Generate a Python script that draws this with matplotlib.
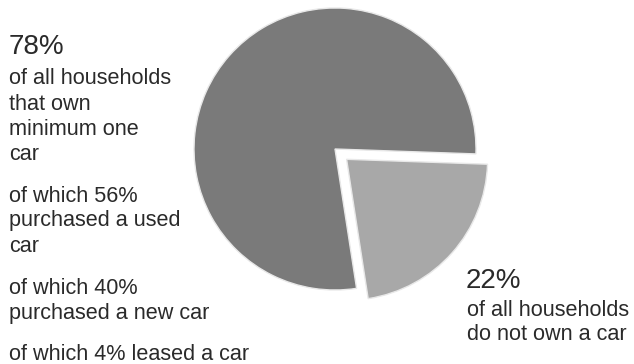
import matplotlib.pyplot as plt

plt.rcParams['font.family'] = ['Liberation Sans', 'DejaVu Sans']

# data
shares = [22, 78]
colors = ['#a8a8a8', '#7a7a7a']
explode = [0.11, 0]

left_big = '78%'
left_blocks = [
    ['of all households', 'that own', 'minimum one', 'car'],
    ['of which 56%', 'purchased a used', 'car'],
    ['of which 40%', 'purchased a new car'],
    ['of which 4% leased a car'],
]
right_big = '22%'
right_lines = ['of all households', 'do not own a car']

W, H = 634, 364
fig = plt.figure(figsize=(W / 100, H / 100), dpi=100)
ax = fig.add_axes([0, 0, 1, 1])

# pie centre at (335, 149) px from top-left, radius 141 px
cx, cy, r = 335, 149, 141
ax.pie(shares, colors=colors, explode=explode, startangle=-2,
       counterclock=False, radius=1,
       wedgeprops=dict(edgecolor='#e8e8e8', linewidth=1))
ax.set_xlim(-cx / r, (W - cx) / r)
ax.set_ylim(-(H - cy) / r, cy / r)
ax.axis('off')


def px(x, y):
    # pixel (from top-left) -> figure fraction
    return x / W, 1 - y / H


txt = '#2a2a2a'
fig.text(*px(9, 47), left_big, fontsize=20, color=txt, va='center', ha='left')
y = 79
for block in left_blocks:
    for line in block:
        fig.text(*px(9, y), line, fontsize=15.6, color=txt, va='center', ha='left')
        y += 25
    y += 17

fig.text(*px(466, 281), right_big, fontsize=20, color=txt, va='center', ha='left')
y = 310
for line in right_lines:
    fig.text(*px(467, y), line, fontsize=15.6, color=txt, va='center', ha='left')
    y += 25

fig.savefig('out.png', dpi=100, facecolor='white')
